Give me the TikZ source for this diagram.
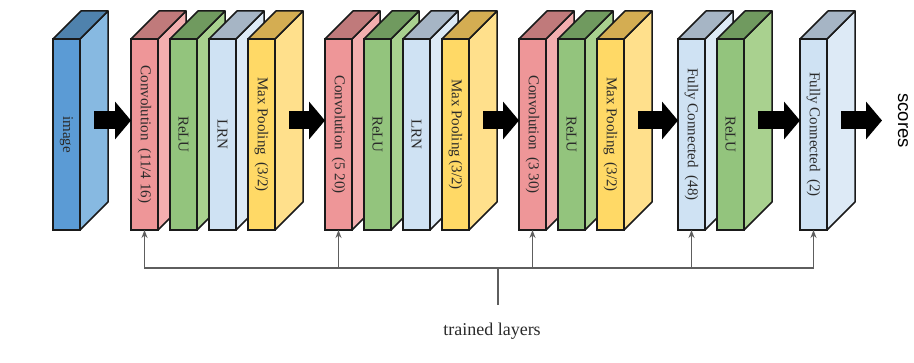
\documentclass[tikz,border=0pt]{standalone}
\usepackage{fontspec}
\setmainfont{Liberation Serif}
\newfontfamily\scoresfont{Liberation Sans}
\usepackage{xcolor}
\usepackage{tikz}
\usetikzlibrary{calc,arrows.meta}

% face colours: front, side, top
\definecolor{imgF}{HTML}{5B9BD5}
\definecolor{imgS}{HTML}{87B9E1}
\definecolor{imgT}{HTML}{4F82AD}
\definecolor{convF}{HTML}{EE9698}
\definecolor{convS}{HTML}{F3AEAF}
\definecolor{convT}{HTML}{C07A7B}
\definecolor{reluF}{HTML}{93C47D}
\definecolor{reluS}{HTML}{A9D18F}
\definecolor{reluT}{HTML}{709A5F}
\definecolor{normF}{HTML}{CFE2F3}
\definecolor{normS}{HTML}{DDEAF6}
\definecolor{normT}{HTML}{A6B5C5}
\definecolor{poolF}{HTML}{FFD966}
\definecolor{poolS}{HTML}{FFE08C}
\definecolor{poolT}{HTML}{D4AD52}
\definecolor{edgecol}{HTML}{1A1A1A}
\definecolor{labelcol}{HTML}{2A2A2A}
\definecolor{feedcol}{HTML}{5E5E5E}

\tikzset{
  face/.style={draw=edgecol, line width=1.5pt, minimum width=27pt,
    minimum height=191pt, inner sep=0pt, outer sep=0pt},
  slab/.style={draw=edgecol, line width=1.5pt, line join=round},
  lbl/.style={rotate=-90, text=labelcol, font=\fontsize{15}{17}\selectfont},
  bigarrow/.style={line width=18pt, -{Triangle[length=16pt,width=37pt]}},
  feed/.style={draw=feedcol, line width=1.8pt, -{Stealth[length=8pt,width=6pt]}},
}

% name, left x, front, side, top, label
\newcommand{\layerbox}[6]{%
  \node[face, fill=#3] (#1) at (#2+13.5,227.5) {};
  \filldraw[slab, fill=#4] (#1.north east) -- (#1.south east) -- ++(28,28) -- ++(0,191) -- cycle;
  \filldraw[slab, fill=#5] (#1.north west) -- (#1.north east) -- ++(28,28) -- ++(-27,0) -- cycle;
  \node[lbl] (#1-txt) at (#1.center) {#6};
}

\begin{document}
\begin{tikzpicture}[x=1pt,y=1pt]
    \useasboundingbox (0,0) rectangle (914,362);
    % input
    \layerbox{image}{53}{imgF}{imgS}{imgT}{image}
    % block 1
    \layerbox{conv1}{131}{convF}{convS}{convT}{Convolution\ \ (11/4 16)}
    \layerbox{relu1}{170}{reluF}{reluS}{reluT}{ReLU}
    \layerbox{lrn1}{209}{normF}{normS}{normT}{LRN}
    \layerbox{pool1}{248}{poolF}{poolS}{poolT}{Max Pooling\ \ (3/2)}
    % block 2
    \layerbox{conv2}{325}{convF}{convS}{convT}{Convolution\ \ (5 20)}
    \layerbox{relu2}{364}{reluF}{reluS}{reluT}{ReLU}
    \layerbox{lrn2}{403}{normF}{normS}{normT}{LRN}
    \layerbox{pool2}{442}{poolF}{poolS}{poolT}{Max Pooling (3/2)}
    % block 3
    \layerbox{conv3}{519}{convF}{convS}{convT}{Convolution\ \ (3 30)}
    \layerbox{relu3}{558}{reluF}{reluS}{reluT}{ReLU}
    \layerbox{pool3}{597}{poolF}{poolS}{poolT}{Max Pooling\ \ (3/2)}
    % classifier
    \layerbox{fc1}{678}{normF}{normS}{normT}{Fully Connected\ \ (48)}
    \layerbox{relu4}{717}{reluF}{reluS}{reluT}{ReLU}
    \layerbox{fc2}{800}{normF}{normS}{normT}{Fully Connected\ \ (2)}

    \node[rotate=-90, font=\scoresfont\fontsize{18.5}{20}\selectfont] (scores) at (903,241.5) {scores};
    \coordinate (out) at (882,241.5);

    % data flow
    \draw[bigarrow] ($(image.east)+(14,14)$) -- ($(conv1.west)+(0,14)$);
    \draw[bigarrow] ($(pool1.east)+(14,14)$) -- ($(conv2.west)+(0,14)$);
    \draw[bigarrow] ($(pool2.east)+(14,14)$) -- ($(conv3.west)+(0,14)$);
    \draw[bigarrow] ($(pool3.east)+(14,14)$) -- ($(fc1.west)+(0,14)$);
    \draw[bigarrow] ($(relu4.east)+(14,14)$) -- ($(fc2.west)+(0,14)$);
    \draw[bigarrow] ($(fc2.east)+(14,14)$) -- (out);

    % trained layers
    \node[font=\fontsize{18}{20}\selectfont, text=labelcol] (trained) at (492,31) {trained layers};
    \coordinate (hub) at (498,94);
    \draw[feedcol, line width=1.8pt] (hub) -- ++(0,-37);
    \foreach \n in {conv1,conv2,conv3,fc1,fc2}
        \draw[feed] (hub) -| (\n.south);
\end{tikzpicture}
\end{document}
